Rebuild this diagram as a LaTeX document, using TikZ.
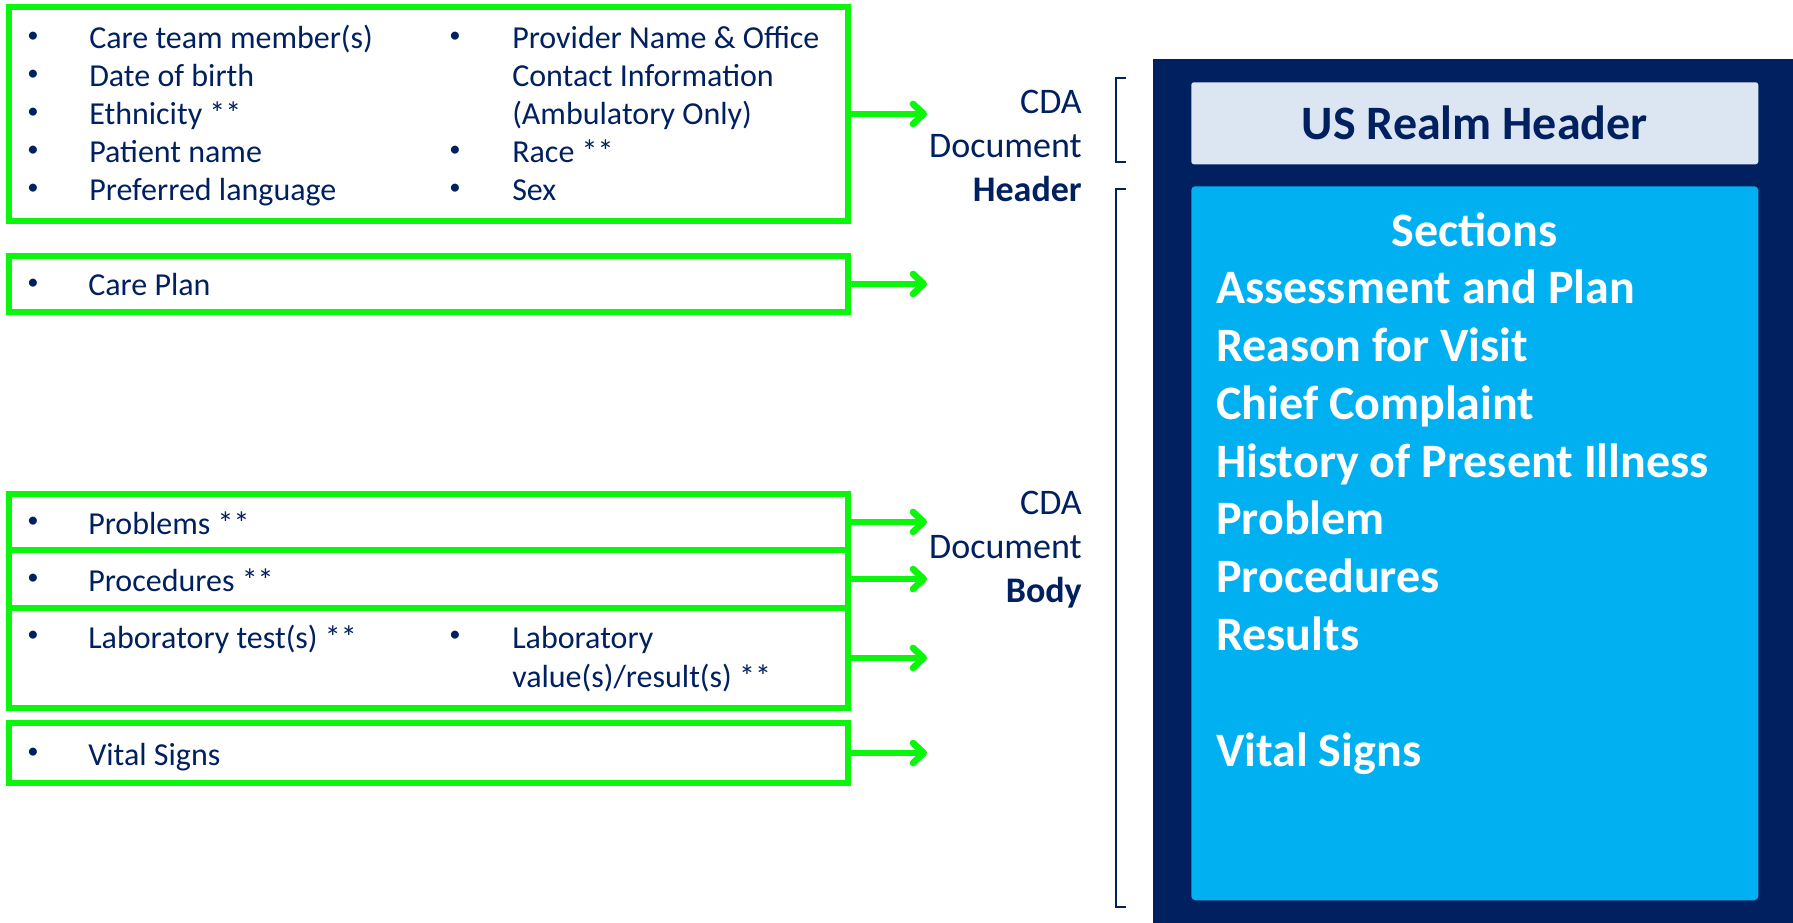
\documentclass[tikz,border=0pt]{standalone}
\usepackage{fontspec}
\setmainfont{Carlito}
\usetikzlibrary{arrows.meta,positioning}

\definecolor{navy}{RGB}{0,32,96}
\definecolor{grn}{RGB}{12,245,12}
\definecolor{paleblue}{RGB}{220,230,242}
\definecolor{skyblue}{RGB}{0,176,240}

\tikzset{
  gbox/.style={draw=grn, line width=4.8pt, minimum width=629pt, inner sep=0pt},
  garrow/.style={draw=grn, line width=5pt, -{Straight Barb[round,length=8pt,width=15pt]}},
  entry/.style={anchor=base west, inner sep=0pt, text=navy, font=\fontsize{24}{29}\selectfont},
  bul/.style={anchor=center, inner sep=0pt, text=navy, font=\fontsize{17}{20}\selectfont},
  cdalabel/.style={anchor=east, align=right, inner sep=0pt, text=navy, font=\fontsize{27}{33}\selectfont},
  bracket/.style={draw=navy, line width=1.5pt},
  sec/.style={anchor=base west, inner sep=0pt, text=white, font=\bfseries\fontsize{36}{43}\selectfont}
}

\begin{document}
\begin{tikzpicture}[x=0.75pt, y=-0.75pt]
  \useasboundingbox (0,0) rectangle (1793,923);

  % green source boxes
  \node[gbox, minimum height=160.5pt] (hdr) at (428.5,114) {};
  \node[gbox, minimum height=42pt] (plan) at (428.5,284) {};
  \node[gbox, minimum height=42pt] (prob) at (428.5,522) {};
  \node[gbox, minimum height=43.5pt] (proc) at (428.5,579) {};
  \node[gbox, minimum height=75pt] (lab) at (428.5,658) {};
  \node[gbox, minimum height=45pt] (vital) at (428.5,753) {};

  % header items
  \foreach \t [count=\k from 0] in {Care team member(s), Date of birth, Ethnicity **, Patient name, Preferred language} {
    \node[bul] (hb\k) at (33,37+38*\k) {\textbullet};
    \node[entry] (ha\k) at (89,49+38*\k) {\t};
  }
  \foreach \t/\k in {Provider Name \& Office/0, Race **/3, Sex/4} {
    \node[bul] (hd\k) at (455,37+38*\k) {\textbullet};
    \node[entry] (hc\k) at (512,49+38*\k) {\t};
  }
  \node[entry] (hc1) at (512,87) {Contact Information};
  \node[entry] (hc2) at (512,125) {(Ambulatory Only)};

  % body items
  \foreach \t/\n/\y in {Care Plan/plan/296, Problems **/prob/534, Procedures **/proc/591, Laboratory test(s) **/lab/648, Vital Signs/vital/765} {
    \node[bul] (b\n) at (33,\y-12) {\textbullet};
    \node[entry] (t\n) at (88,\y) {\t};
  }
  \node[bul] (blab2) at (455,636) {\textbullet};
  \node[entry] (tlab2) at (512,648) {Laboratory};
  \node[entry] (tlab3) at (512,687) {value(s)/result(s) **};

  % arrows
  \foreach \b in {hdr,plan,prob,proc,lab,vital}
    \draw[garrow] (\b.east) -- ++(76,0);

  % CDA labels and brackets
  \node[cdalabel] (hdrlab) at (1082,146) {CDA\\Document\\\textbf{Header}};
  \node[cdalabel] (bodylab) at (1082,550) {CDA\\Document\\\textbf{Body}};
  \draw[bracket] (1126,78) -- (1116,78) -- (1116,162) -- (1126,162);
  \draw[bracket] (1126,189) -- (1116,189) -- (1116,907) -- (1126,907);

  % CDA document
  \node[fill=navy, inner sep=0pt, minimum width=480pt, minimum height=648pt, anchor=north west] (frame) at (1153,59) {};
  \node[fill=paleblue, rounded corners=2pt, inner sep=0pt, minimum width=425.25pt, minimum height=61.5pt,
        anchor=north west, text=navy, font=\bfseries\fontsize{36}{43}\selectfont] (usrealm) at (1191,82) {US Realm Header};
  \node[fill=skyblue, rounded corners=3pt, inner sep=0pt, minimum width=425.25pt, minimum height=535.5pt,
        anchor=north west] (secbox) at (1191,186) {};
  \node[sec, anchor=base] (sechead) at (1474.5,247) {Sections};
  \foreach \s/\k in {Assessment and Plan/0, Reason for Visit/1, Chief Complaint/2, History of Present Illness/3,
                     Problem/4, Procedures/5, Results/6, Vital Signs/8}
    \node[sec] (s\k) at (1216,304+57.75*\k) {\s};
\end{tikzpicture}
\end{document}
